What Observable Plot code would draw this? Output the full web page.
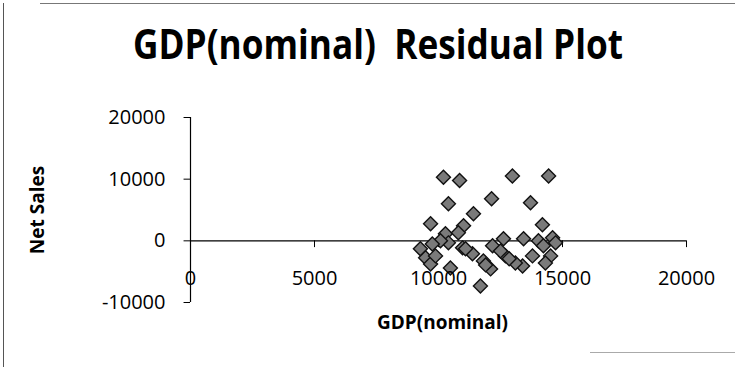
<!DOCTYPE html>
<html><head><meta charset="utf-8">
<script src="https://cdn.jsdelivr.net/npm/d3@7"></script>
<script src="https://cdn.jsdelivr.net/npm/@observablehq/plot@0.6"></script>
<style>
body{margin:0;background:#fff;}
#wrap{position:relative;width:735px;height:367px;overflow:hidden;font-family:"Open Sans",sans-serif;background:#fff;}
#title{position:absolute;left:133px;top:16px;white-space:nowrap;font-weight:700;font-size:41px;line-height:54px;transform-origin:0 0;color:#000;}
#chart{position:absolute;left:0;top:95px;}
#bl{position:absolute;left:3px;top:3px;width:0;height:364px;border-left:1.5px solid #555;}
#bt{position:absolute;left:40px;top:3px;width:695px;height:0;border-top:1.5px solid #777;}
#bb{position:absolute;left:590px;top:352px;width:145px;height:0;border-top:1px solid #aaa;}
</style></head>
<body>
<div id="wrap">
  <div id="bl"></div><div id="bt"></div><div id="bb"></div>
  <div id="title"><span id="tspan">GDP(nominal)&nbsp; Residual Plot</span></div>
  <div id="chart"></div>
</div>
<script>
const gdp = [10200,10850,10400,12140,12980,14440,13710,14190,9680,11410,11010,10280,10800,14600,12620,13430,14030,9270,9480,9680,10480,10400,10970,11370,11810,12100,11690,12180,12700,13390,13790,14230,14520,14720,10080,11090,12500,13100,14310,9880,12850,9750,11900];
const residuals = [10300,9800,6000,6830,10500,10500,6180,2600,2760,4390,2440,1140,1300,490,330,330,0,-1300,-2760,-3740,-4390,-330,-1140,-2110,-3250,-4550,-7320,-810,-2440,-4070,-2440,-810,-2440,-330,0,-1300,-1630,-3580,-3580,-2440,-2900,-500,-3900];
const xTicks = [0,5000,10000,15000,20000];
const yTicks = [-10000,0,10000,20000];
const xLabel = "GDP(nominal)";
const yLabel = "Net Sales";

const points = gdp.map((g,i)=>({gdp:g, residual:residuals[i]}));

// fit title width
const ts = document.getElementById("tspan");
const w = ts.getBoundingClientRect().width;
document.getElementById("title").style.transform = `scaleX(${490/w})`;

const chart = Plot.plot({
  width: 735, height: 272,
  marginLeft: 190, marginRight: 49, marginTop: 22, marginBottom: 65,
  x: {domain: [0, 20000], axis: null},
  y: {domain: [-10000, 20000], axis: null},
  style: {fontFamily: "Open Sans, sans-serif", fontSize: "20px", background: "transparent", overflow: "visible", color: "#000"},
  marks: [
    Plot.ruleX([0], {y1: -10000, y2: 20000, stroke: "#000", strokeWidth: 1.2}),
    Plot.ruleY([0], {x1: 0, x2: 20000, stroke: "#000", strokeWidth: 1.2}),
    Plot.ruleY(yTicks, {y: d => d, x1: -260, x2: 0, stroke: "#000"}),
    Plot.ruleX(xTicks, {x: d => d, y1: 0, y2: -1100, stroke: "#000"}),
    Plot.dot(points, {x: "gdp", y: "residual", symbol: "diamond2", r: 6.3, fill: "#7a7a7a", stroke: "#111", strokeWidth: 1.4}),
    Plot.text(yTicks, {x: 0, y: d => d, text: d => String(d), textAnchor: "end", dx: -25, fontSize: 20, fill: "#000"}),
    Plot.text(xTicks, {x: d => d, y: 0, text: d => String(d), dy: 38, fontSize: 20, fill: "#000"}),
    Plot.text([xLabel], {frameAnchor: "bottom", text: d => d, dy: 20, dx: 4, textAnchor: "middle", lineAnchor: "middle", fontWeight: "bold", fontSize: 19, fill: "#000"}),
    Plot.text([yLabel], {frameAnchor: "left", text: d => d, dx: -153, rotate: -90, textAnchor: "middle", lineAnchor: "middle", fontWeight: "bold", fontSize: 19, fill: "#000"})
  ]
});
document.getElementById("chart").appendChild(chart);
</script>
</body></html>
